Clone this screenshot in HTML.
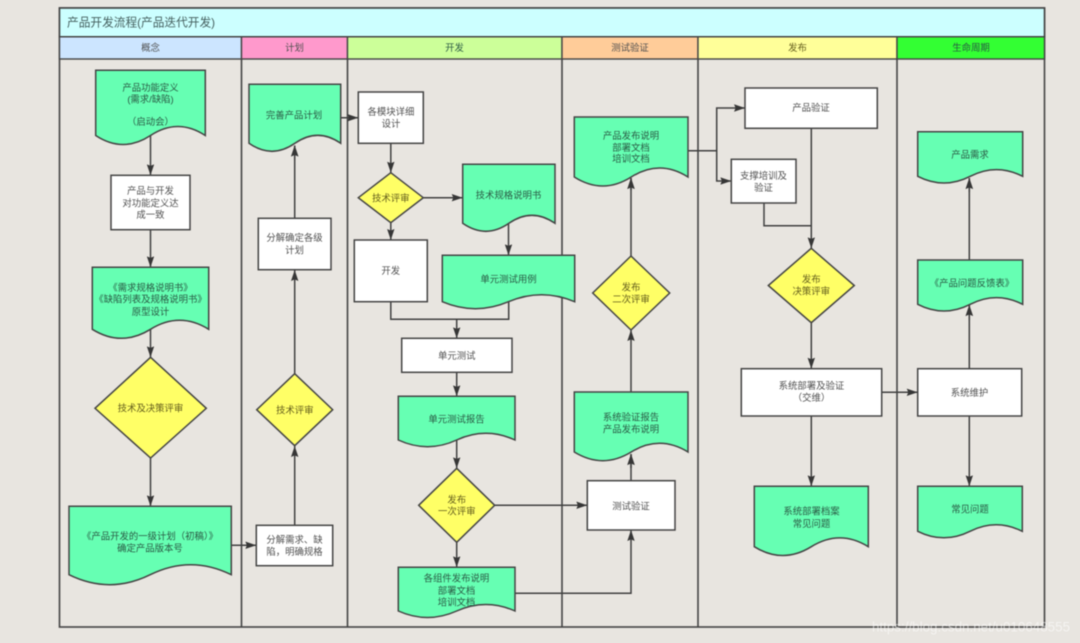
<!DOCTYPE html>
<html><head><meta charset="utf-8">
<style>
html,body{margin:0;padding:0;background:#e8e5e0;width:1080px;height:643px;overflow:hidden}
svg{display:block;filter:blur(.45px)}
text{font-family:"Liberation Sans","Noto Sans CJK SC",sans-serif;font-size:9.4px;text-anchor:middle;fill:#505050}
.g text,text.g{fill:#2a5a44}
.y text,text.y{fill:#625c1c}
.s{fill:#fff;stroke:#444;stroke-width:1.5}
.d{fill:#66ffb3;stroke:#444;stroke-width:1.5}
.r{fill:#ffff66;stroke:#444;stroke-width:1.5}
.l{fill:none;stroke:#404040;stroke-width:1.5}
.a{fill:none;stroke:#404040;stroke-width:1.5;marker-end:url(#m)}
</style></head><body>
<svg width="1080" height="643" viewBox="0 0 1080 643" xmlns="http://www.w3.org/2000/svg">
<defs><marker id="m" markerUnits="userSpaceOnUse" markerWidth="13" markerHeight="9" refX="11" refY="4.5" orient="auto"><path d="M0 .8L11 4.5L0 8.2L1.6 4.5Z" fill="#363636"/></marker></defs>

<!-- frame -->
<rect x="59.5" y="8" width="985" height="619" fill="#e8e5e0" stroke="#444" stroke-width="1.6"/>
<rect x="59.5" y="8" width="985" height="28.8" fill="#ccffff" stroke="#444" stroke-width="1.6"/>
<g stroke="#444" stroke-width="1.4">
<rect x="59.5" y="36.8" width="182" height="22.2" fill="#cce5ff"/>
<rect x="241.5" y="36.8" width="106" height="22.2" fill="#ff99cc"/>
<rect x="347.5" y="36.8" width="214.5" height="22.2" fill="#ccff99"/>
<rect x="562" y="36.8" width="136" height="22.2" fill="#ffcc99"/>
<rect x="698" y="36.8" width="199" height="22.2" fill="#ffff99"/>
<rect x="897" y="36.8" width="147.5" height="22.2" fill="#33ff33"/>
</g>
<path d="M241.5 59V627M347.5 59V627M562 59V627M698 59V627M897 59V627" stroke="#444" stroke-width="1.6" fill="none"/>
<text x="67" y="26.5" style="font-size:11.7px;text-anchor:start;fill:#45605f">产品开发流程(产品迭代开发)</text>
<text x="150.5" y="51">概念</text>
<text x="294.5" y="51">计划</text>
<text x="454.5" y="51" class="g">开发</text>
<text x="630" y="51">测试验证</text>
<text x="797.5" y="51" class="y">发布</text>
<text x="971" y="51" class="g">生命周期</text>

<!-- connectors -->
<path class="a" d="M150.5 135V175.3"/>
<path class="a" d="M150.5 229.7V267.3"/>
<path class="a" d="M150.5 329V357.3"/>
<path class="a" d="M150.5 457.3V506.3"/>
<path class="a" d="M231.3 545.3H256.3"/>
<path class="a" d="M294.7 525.3V446"/>
<path class="a" d="M294.7 373.7V270"/>
<path class="a" d="M294.7 218.3V145.5"/>
<path class="a" d="M340.7 117.7H358.3"/>
<path class="a" d="M390.8 143.3V172.7"/>
<path class="a" d="M423.3 197.7H462.7"/>
<path class="a" d="M390.8 222.7V240"/>
<path class="a" d="M508.5 223V255.3"/>
<path class="l" d="M390.8 301.7V319.3H508.7V301"/>
<path class="a" d="M456.7 319.3V338.3"/>
<path class="a" d="M456.7 372.3V396.3"/>
<path class="a" d="M456.7 440V468.3"/>
<path class="a" d="M456.7 542.3V567.3"/>
<path class="a" d="M494.7 505.3H587.3"/>
<path class="a" d="M515 593.3H631V530"/>
<path class="a" d="M631 480.7V454"/>
<path class="a" d="M631 392V330"/>
<path class="a" d="M631 256V178"/>
<path class="a" d="M688 150.7H716.7V108H745"/>
<path class="a" d="M716.7 150.7V181H731.3"/>
<path class="a" d="M811.3 128.3V248.3"/>
<path class="l" d="M764 203V225.7H811.3"/>
<path class="a" d="M811.3 322.7V368.7"/>
<path class="a" d="M811.3 416V486.3"/>
<path class="a" d="M881.7 392.3H917.7"/>
<path class="a" d="M969.3 368.7V305"/>
<path class="a" d="M969.3 260V178"/>
<path class="a" d="M969.3 416V486.3"/>

<!-- white boxes -->
<rect class="s" x="111" y="175.3" width="79" height="54.4"/>
<rect class="s" x="258.3" y="218.3" width="72.7" height="51.4"/>
<rect class="s" x="256.3" y="525.3" width="76.4" height="40.4"/>
<rect class="s" x="358.3" y="92" width="65" height="51.3"/>
<rect class="s" x="354.3" y="240" width="73" height="61.7"/>
<rect class="s" x="401.7" y="338.3" width="110.3" height="34"/>
<rect class="s" x="587.3" y="480.7" width="87.7" height="49.3"/>
<rect class="s" x="745" y="88" width="132.3" height="40.3"/>
<rect class="s" x="731.3" y="159.3" width="64.7" height="43.7"/>
<rect class="s" x="741.3" y="368.7" width="140.4" height="47.3"/>
<rect class="s" x="917.7" y="368.7" width="104" height="47.3"/>

<!-- documents -->
<path class="d" d="M95.7 70.3H205.3V135.5Q177.9 117.5 150.5 135.5T95.7 135.5Z"/>
<path class="d" d="M249 84.3H340.7V143.3Q317.8 127.3 294.9 143.3T249 143.3Z"/>
<path class="d" d="M92.3 267.3H208.7V329.3Q179.6 311.3 150.5 329.3T92.3 329.3Z"/>
<path class="d" d="M69 506.3H231.3V574.7Q190.7 554.7 150.2 574.7T69 574.7Z"/>
<path class="d" d="M462.7 164.3H555V223.3Q531.9 207.3 508.9 223.3T462.7 223.3Z"/>
<path class="d" d="M442.3 255.3H574.7V301.7Q541.6 287.7 508.5 301.7T442.3 301.7Z"/>
<path class="d" d="M398.3 396.3H515V440Q485.8 426.6 456.7 440T398.3 440Z"/>
<path class="d" d="M398.3 567.3H515V611Q485.8 598 456.7 611T398.3 611Z"/>
<path class="d" d="M574.3 392H688V452Q659.6 434.6 631.2 452T574.3 452Z"/>
<path class="d" d="M574.3 117H688V177Q659.6 159 631.2 177T574.3 177Z"/>
<path class="d" d="M754.3 486.3H868.3V546.7Q839.8 529.1 811.3 546.7T754.3 546.7Z"/>
<path class="d" d="M917.7 486.3H1022.3V531.3Q996.2 518.3 970 531.3T917.7 531.3Z"/>
<path class="d" d="M917.7 131.7H1022.7V176.3Q996.4 162.9 970.2 176.3T917.7 176.3Z"/>
<path class="d" d="M917.7 260H1022.7V304.3Q996.4 290.9 970.2 304.3T917.7 304.3Z"/>

<!-- arrowheads that land on document edges stay on top -->
<path class="a" d="M294.7 160V145.5"/>
<path class="a" d="M631 190V178"/>
<path class="a" d="M631 468V454"/>
<path class="a" d="M969.3 192V178"/>
<path class="a" d="M969.3 320V305"/>

<!-- diamonds -->
<path class="r" d="M150.6 357.3L206.3 408.3L150.6 458L95 408.3Z"/>
<path class="r" d="M294.7 373.7L332.7 409.7L294.7 445.7L256.7 409.7Z"/>
<path class="r" d="M390.8 172.7L423.3 197.7L390.8 222.7L358.3 197.7Z"/>
<path class="r" d="M456.7 468.3L494.7 505.3L456.7 542.3L418.7 505.3Z"/>
<path class="r" d="M631 256L669.7 293L631 330L592.7 293Z"/>
<path class="r" d="M811.3 248.3L854.3 285.5L811.3 322.7L768.3 285.5Z"/>

<!-- labels -->
<g class="g">
<text x="150.5" y="91">产品功能定义</text>
<text x="150.5" y="102.5">(需求/缺陷)</text>
<text x="150.5" y="125">（启动会）</text>
<text x="294" y="118.5">完善产品计划</text>
<text x="150.5" y="291">《需求规格说明书》</text>
<text x="150.5" y="302.5">《缺陷列表及规格说明书》</text>
<text x="150.5" y="315">原型设计</text>
<text x="150" y="539.5">《产品开发的一级计划（初稿）》</text>
<text x="150" y="551.5">确定产品版本号</text>
<text x="508.5" y="198.5">技术规格说明书</text>
<text x="508.5" y="282.5">单元测试用例</text>
<text x="456.5" y="422.5">单元测试报告</text>
<text x="456.5" y="581.5">各组件发布说明</text>
<text x="456.5" y="594">部署文档</text>
<text x="456.5" y="605.5">培训文档</text>
<text x="631" y="420.5">系统验证报告</text>
<text x="631" y="432.5">产品发布说明</text>
<text x="631" y="139">产品发布说明</text>
<text x="631" y="151">部署文档</text>
<text x="631" y="162">培训文档</text>
<text x="811.5" y="514.5">系统部署档案</text>
<text x="811.5" y="527">常见问题</text>
<text x="970" y="512.5">常见问题</text>
<text x="970" y="158">产品需求</text>
<text x="972" y="286.5">《产品问题反馈表》</text>
</g>
<text x="150.5" y="194">产品与开发</text>
<text x="150.5" y="206.5">对功能定义达</text>
<text x="150.5" y="218">成一致</text>
<text x="294.5" y="241">分解确定各级</text>
<text x="294.5" y="253.5">计划</text>
<text x="294.5" y="543">分解需求、缺</text>
<text x="294.5" y="555">陷，明确规格</text>
<text x="391" y="115">各模块详细</text>
<text x="391" y="127">设计</text>
<text x="390.8" y="274">开发</text>
<text x="456.7" y="359">单元测试</text>
<text x="631" y="509.5">测试验证</text>
<text x="811" y="111">产品验证</text>
<text x="763.5" y="179">支撑培训及</text>
<text x="763.5" y="191">验证</text>
<text x="811.5" y="389">系统部署及验证</text>
<text x="811.5" y="401">（交维）</text>
<text x="969.5" y="396">系统维护</text>
<g class="y">
<text x="150.5" y="411.5">技术及决策评审</text>
<text x="294.7" y="413.5">技术评审</text>
<text x="390.8" y="201.5">技术评审</text>
<text x="456.7" y="503">发布</text>
<text x="456.7" y="514.5">一次评审</text>
<text x="631" y="290.5">发布</text>
<text x="631" y="302.5">二次评审</text>
<text x="811.3" y="282.5">发布</text>
<text x="811.3" y="294.5">决策评审</text>
</g>

<!-- watermark -->
<text x="971" y="631.5" style="font-size:13.4px;fill:#fff;fill-opacity:.55">https://blog.csdn.net/u010648555</text>
</svg>
</body></html>
